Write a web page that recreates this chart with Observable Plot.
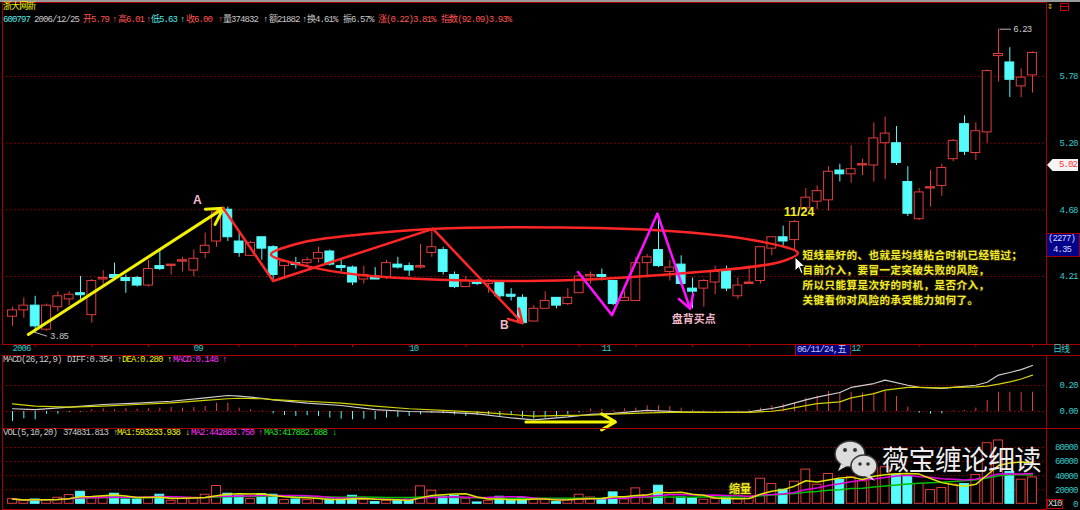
<!DOCTYPE html>
<html><head><meta charset="utf-8">
<script src="https://cdn.jsdelivr.net/npm/d3@7"></script>
<script src="https://cdn.jsdelivr.net/npm/@observablehq/plot@0.6"></script>
<style>
html,body{margin:0;padding:0;background:#000;}
#root{position:relative;width:1080px;height:510px;background:#000;overflow:hidden;}
#root svg{position:absolute;left:0;}
#root svg g[font-size="9"] text{letter-spacing:-0.9px;}
#root svg g[font-size="10.5"] text{letter-spacing:0.5px;}
.t{position:absolute;white-space:pre;font-family:"Liberation Mono","Noto Sans CJK SC",monospace;font-size:9px;letter-spacing:-0.9px;line-height:10px;}
.box{position:absolute;box-sizing:border-box;}
</style></head>
<body><div id="root"></div>
<script>
// ---------------- data ----------------
const opens  = [3.95,3.99,4.02,3.87,4.01,4.06,4.10,3.96,4.19,4.22,4.20,4.20,4.15,4.28,4.28,4.31,4.25,4.37,4.45,4.68,
                4.45,4.35,4.48,4.41,4.28,4.30,4.30,4.33,4.38,4.28,4.27,4.19,4.21,4.20,4.29,4.28,4.27,4.37,4.39,4.22,
                4.14,4.18,4.16,4.17,4.09,4.07,3.92,4.00,4.07,4.03,4.10,4.21,4.22,4.18,4.05,4.05,4.30,4.39,4.24,4.29,
                4.13,4.13,4.17,4.25,4.08,4.16,4.18,4.40,4.48,4.46,4.69,4.74,4.75,4.98,4.95,5.02,5.02,5.20,5.20,4.89,
                4.61,4.84,4.86,5.07,5.36,5.12,5.29,5.97,5.91,5.69,5.79];
const highs  = [4.01,4.07,4.08,4.03,4.11,4.11,4.21,4.19,4.25,4.30,4.22,4.21,4.32,4.38,4.29,4.34,4.39,4.51,4.69,4.70,
                4.51,4.45,4.48,4.42,4.32,4.34,4.34,4.41,4.39,4.32,4.28,4.28,4.27,4.32,4.34,4.30,4.43,4.53,4.41,4.24,
                4.21,4.19,4.19,4.18,4.13,4.09,4.02,4.11,4.07,4.13,4.22,4.24,4.26,4.18,4.11,4.34,4.36,4.64,4.32,4.35,
                4.20,4.19,4.28,4.28,4.20,4.28,4.41,4.48,4.56,4.60,4.84,4.86,5.01,5.03,5.18,5.07,5.37,5.42,5.34,5.01,
                4.84,4.98,5.03,5.23,5.43,5.37,5.84,6.23,6.05,5.85,6.01];
const lows   = [3.89,3.94,3.85,3.86,3.98,4.02,4.06,3.91,4.14,4.20,4.10,4.14,4.14,4.25,4.22,4.24,4.21,4.33,4.41,4.45,
                4.34,4.35,4.32,4.19,4.19,4.26,4.27,4.30,4.28,4.24,4.15,4.16,4.19,4.19,4.26,4.21,4.26,4.34,4.22,4.13,
                4.14,4.15,4.10,4.06,4.05,3.90,3.92,4.00,4.00,4.02,4.10,4.16,4.18,4.02,4.05,4.05,4.20,4.27,4.18,4.15,
                4.00,4.01,4.09,4.11,4.06,4.16,4.16,4.35,4.41,4.39,4.66,4.68,4.67,4.89,4.88,4.94,4.89,4.91,5.02,4.63,
                4.60,4.70,4.78,5.05,5.10,5.06,5.20,5.73,5.59,5.59,5.63];
const closes = [3.99,4.02,3.89,4.02,4.08,4.09,4.09,4.18,4.20,4.20,4.18,4.15,4.26,4.26,4.29,4.32,4.33,4.42,4.66,4.48,
                4.37,4.44,4.40,4.22,4.31,4.29,4.32,4.37,4.29,4.27,4.17,4.22,4.19,4.30,4.27,4.25,4.28,4.41,4.24,4.14,
                4.18,4.16,4.18,4.08,4.08,3.91,4.00,4.05,4.02,4.07,4.21,4.22,4.21,4.03,4.07,4.30,4.34,4.28,4.27,4.16,
                4.11,4.18,4.24,4.13,4.15,4.17,4.41,4.48,4.45,4.59,4.77,4.82,4.97,4.95,4.99,5.03,5.24,5.28,5.04,4.65,
                4.81,4.85,5.00,5.22,5.13,5.30,5.83,5.99,5.75,5.77,6.00];
// volume in hands (axis shows value / 10)
const volumes = [67000,43000,61000,53000,86000,124000,171000,86000,100000,143000,61000,61000,90000,129000,43000,67000,86000,129000,253000,143000,
                 110000,67000,138000,129000,53000,61000,53000,76000,61000,61000,114000,57000,24000,43000,48000,57000,248000,186000,100000,110000,
                 71000,19000,43000,100000,53000,81000,57000,57000,24000,67000,129000,90000,61000,162000,61000,219000,124000,257000,124000,90000,
                 76000,57000,67000,90000,67000,100000,357000,281000,200000,314000,486000,271000,424000,338000,376000,319000,505000,519000,414000,390000,
                 281000,195000,224000,271000,281000,410000,861000,900000,453000,343000,374832];
const macdHist = [-0.077,-0.056,-0.064,-0.021,-0.021,-0.008,-0.005,0.013,0.021,0.013,0.021,0.018,0.021,0.026,0.031,0.026,0.031,0.038,0.064,0.064,
                  0.026,0.013,0.005,-0.018,-0.031,-0.038,-0.033,-0.038,-0.051,-0.059,-0.064,-0.059,-0.064,-0.051,-0.044,-0.038,-0.026,-0.013,-0.018,-0.026,
                  -0.038,-0.031,-0.026,-0.038,-0.033,-0.050,-0.059,-0.051,-0.044,-0.026,-0.010,0.018,0.018,0.010,0.020,0.026,0.044,0.044,0.038,0.026,
                  0.010,0.005,0.005,-0.005,0.005,0.010,0.026,0.044,0.056,0.064,0.103,0.118,0.154,0.146,0.149,0.141,0.141,0.154,0.115,0.033,
                  -0.013,-0.020,-0.018,0.005,0.008,0.026,0.085,0.148,0.148,0.148,0.148];
const lineIdx  = [0,2,5,8,11,14,17,19,20,22,23,26,29,32,35,38,41,44,46,49,51,53,56,59,62,65,67,68,70,71,73,74,76,77,79,80,82,83,85,86,87,88,89,90];
const diffVals = [0.021,0.015,0.033,0.054,0.064,0.079,0.105,0.123,0.118,0.102,0.090,0.064,0.046,0.015,0.000,-0.005,-0.018,-0.049,-0.065,-0.042,-0.022,-0.015,0.008,-0.003,-0.006,-0.002,0.023,0.041,0.090,0.110,0.146,0.185,0.215,0.241,0.202,0.185,0.177,0.185,0.202,0.225,0.280,0.300,0.322,0.354];
const deaVals  = [0.059,0.041,0.033,0.041,0.054,0.067,0.085,0.098,0.102,0.098,0.092,0.079,0.064,0.041,0.021,0.008,-0.005,-0.023,-0.035,-0.030,-0.028,-0.020,-0.010,-0.005,-0.006,-0.006,0.002,0.012,0.045,0.060,0.074,0.105,0.138,0.164,0.185,0.185,0.182,0.185,0.190,0.195,0.210,0.228,0.250,0.280];
const priceTicks = [4.21, 4.68, 5.20, 5.78];
const macdTicks  = [0, 0.2];
const volTicks   = [0, 200000, 400000, 600000, 800000];
const weekTicks  = [2,7,12,16,20,25,30,35,40,45,50,52,55,60,65,70,75,80,85,90];
const monthIdx    = [0, 16, 35, 52, 74];
const monthLabels = ["2006", "09", "10", "11", "12"];

// annotations (in index / price units)
const yellowArrow = [{x1: 1.4, y1: 3.84, x2: 18.6, y2: 4.69}];
const redPath  = [{x: 18.6, y: 4.69}, {x: 23.0, y: 4.18}, {x: 37.1, y: 4.54}];
const redHead  = [{x1: 37.1, y1: 4.54, x2: 45.0, y2: 3.91}];
const magPath  = [{x: 49.9, y: 4.24}, {x: 52.9, y: 3.96}, {x: 56.9, y: 4.65}];
const magHead  = [{x1: 56.9, y1: 4.65, x2: 59.8, y2: 4.00}];
const ellipsePts = [{x:22.8,y:4.36},{x:25.4,y:4.44},{x:30.7,y:4.50},{x:36.9,y:4.54},{x:48.4,y:4.55},{x:58.9,y:4.52},
                    {x:66.0,y:4.45},{x:69.3,y:4.37},{x:67.8,y:4.31},{x:57.2,y:4.22},{x:45.4,y:4.18},{x:30.7,y:4.22},{x:25.4,y:4.29}];
const noteText = "短线最好的、也就是均线粘合时机已经错过；\n目前介入，要冒一定突破失败的风险，\n所以只能算是次好的时机，是否介入，\n关键看你对风险的承受能力如何了。";

// ---------------- drawing ----------------
const RED = "#e23c3c", CYAN = "#54fcfc", GRID = "#9a0000", FRAME = "#a80000", AX = "#38c8c8";
const mono = "Liberation Mono, Noto Sans CJK SC, monospace";
const cjk = "Noto Sans CJK SC, sans-serif";
const bars = opens.map((o, i) => ({i, o, h: highs[i], l: lows[i], c: closes[i], v: volumes[i], m: macdHist[i], up: closes[i] >= o}));
const X = {domain: [0, 90], range: [12, 1032], axis: null};
const common = {width: 1080, marginLeft: 2, marginRight: 34, style: {background: "transparent", overflow: "visible"}, color: {type: "identity"}};
const hw = 0.39;

const price = Plot.plot({
  ...common, height: 356, marginTop: 2, marginBottom: 12,
  x: X,
  y: {type: "log", domain: [4.21, 5.78], range: [276, 76], axis: null},
  marks: [
    Plot.ruleY(priceTicks, {stroke: GRID, strokeDasharray: "1.5,2.5"}),
    Plot.frame({stroke: FRAME}),
    Plot.axisX({ticks: weekTicks, tickSize: 3, tickFormat: () => "", stroke: FRAME, label: null}),
    Plot.text(monthIdx, {x: d => d, text: (d, i) => monthLabels[i], frameAnchor: "bottom", dy: 6, dx: 0, textAnchor: "start", fill: AX, fontFamily: mono, fontSize: 9}),
    Plot.text(priceTicks, {y: d => d, text: d => d.toFixed(2), frameAnchor: "right", dx: 31, textAnchor: "end", fill: AX, fontFamily: mono, fontSize: 9}),
    Plot.ruleX(bars, {x: "i", y1: "l", y2: "h", stroke: d => d.up ? RED : CYAN}),
    Plot.rect(bars, {x1: d => d.i - hw, x2: d => d.i + hw, y1: "o", y2: "c", fill: d => d.up ? "#000" : CYAN, stroke: d => d.up ? RED : CYAN}),
    Plot.ruleY(bars.filter(d => Math.abs(d.o - d.c) < 0.012), {y: "c", x1: d => d.i - hw, x2: d => d.i + hw, stroke: d => d.up ? RED : CYAN}),
    Plot.line(ellipsePts, {x: "x", y: "y", curve: "catmull-rom-closed", stroke: "#ff2626", strokeWidth: 2.5}),
    Plot.arrow(yellowArrow, {x1: "x1", y1: "y1", x2: "x2", y2: "y2", stroke: "#f2f200", strokeWidth: 3, headLength: 9}),
    Plot.line(redPath, {x: "x", y: "y", stroke: "#ff2626", strokeWidth: 2.5}),
    Plot.arrow(redHead, {x1: "x1", y1: "y1", x2: "x2", y2: "y2", stroke: "#ff2626", strokeWidth: 2.5, headLength: 9}),
    Plot.line(magPath, {x: "x", y: "y", stroke: "#ff10ff", strokeWidth: 2.5}),
    Plot.arrow(magHead, {x1: "x1", y1: "y1", x2: "x2", y2: "y2", stroke: "#ff10ff", strokeWidth: 2.5, headLength: 9}),
    Plot.link([{x1: 87.1, y1: 6.23, x2: 88.1, y2: 6.23}], {x1: "x1", y1: "y1", x2: "x2", y2: "y2", stroke: "#b8b8b8"}),
    Plot.text([{x: 88.3, y: 6.23, t: "6.23"}], {x: "x", y: "y", text: "t", textAnchor: "start", fill: "#c8c8c8", fontFamily: mono, fontSize: 9}),
    Plot.link([{x1: 1.9, y1: 3.855, x2: 3.05, y2: 3.83}], {x1: "x1", y1: "y1", x2: "x2", y2: "y2", stroke: "#b8b8b8"}),
    Plot.text([{x: 3.3, y: 3.83, t: "3.85"}], {x: "x", y: "y", text: "t", textAnchor: "start", fill: "#c8c8c8", fontFamily: mono, fontSize: 9}),
    Plot.text([{x: 16.3, y: 4.75, t: "A"}, {x: 43.4, y: 3.895, t: "B"}], {x: "x", y: "y", text: "t", fill: "#f2b8c8", fontFamily: "Liberation Sans, sans-serif", fontSize: 12, fontWeight: "bold"}),
    Plot.text([{x: 60.1, y: 3.935, t: "盘背买点"}], {x: "x", y: "y", text: "t", fill: "#f2b8c8", fontFamily: cjk, fontSize: 11, fontWeight: "bold"}),
    Plot.text([{x: 69.4, y: 4.66, t: "11/24"}], {x: "x", y: "y", text: "t", fill: "#f2ee20", fontFamily: "Liberation Sans, sans-serif", fontSize: 12.5, fontWeight: "bold"}),
    Plot.text([{x: 69.7, y: 4.207, t: noteText}], {x: "x", y: "y", text: "t", textAnchor: "start", lineHeight: 1.42, fill: "#f4ee2a", stroke: "#231c00", strokeWidth: 2, fontFamily: cjk, fontSize: 10.5, fontWeight: "bold"})
  ]
});

const macd = Plot.plot({
  ...common, height: 75, marginTop: 1, marginBottom: 1,
  x: X,
  y: {domain: [0, 0.2], range: [57, 31], axis: null},
  marks: [
    Plot.ruleY(macdTicks, {stroke: GRID, strokeDasharray: "1.5,2.5"}),
    Plot.frame({stroke: FRAME}),
    Plot.text(macdTicks, {y: d => d, text: d => d.toFixed(2), frameAnchor: "right", dx: 31, textAnchor: "end", fill: AX, fontFamily: mono, fontSize: 9}),
    Plot.ruleX(bars, {x: "i", y1: 0, y2: "m", stroke: d => d.m >= 0 ? RED : CYAN}),
    Plot.line(lineIdx, {x: d => d, y: (d, i) => diffVals[i], stroke: "#cfcfcf", strokeWidth: 1.2}),
    Plot.line(lineIdx, {x: d => d, y: (d, i) => deaVals[i], stroke: "#d2d200", strokeWidth: 1.2}),
    Plot.arrow([{x1: 45.3, y1: -0.08, x2: 53.2, y2: -0.08}], {x1: "x1", y1: "y1", x2: "x2", y2: "y2", stroke: "#f5f500", strokeWidth: 3, headLength: 8})
  ]
});

const vol = Plot.plot({
  ...common, height: 83, marginTop: 1, marginBottom: 1,
  x: X,
  y: {domain: [0, 800000], range: [76.3, 20], axis: null},
  marks: [
    Plot.ruleY(volTicks.slice(1), {stroke: GRID, strokeDasharray: "1.5,2.5"}),
    Plot.frame({stroke: FRAME}),
    Plot.text(volTicks, {y: d => d, text: d => String(d / 10), frameAnchor: "right", dx: 31, textAnchor: "end", fill: AX, fontFamily: mono, fontSize: 9}),
    Plot.rect(bars, {x1: d => d.i - hw, x2: d => d.i + hw, y1: 0, y2: "v", fill: d => d.up ? "#000" : CYAN, stroke: d => d.up ? RED : CYAN}),
    Plot.lineY(bars, Plot.windowY({k: 20, anchor: "end"}, {x: "i", y: "v", stroke: "#00c000"})),
    Plot.lineY(bars, Plot.windowY({k: 10, anchor: "end"}, {x: "i", y: "v", stroke: "#e000e0"})),
    Plot.lineY(bars, Plot.windowY({k: 5, anchor: "end"}, {x: "i", y: "v", stroke: "#e2e200"})),
    Plot.text([{x: 64.2, y: 200000, t: "缩量"}], {x: "x", y: "y", text: "t", fill: "#eeea20", stroke: "#3a3000", strokeWidth: 2, fontFamily: cjk, fontSize: 11, fontWeight: "bold"})
  ]
});

const root = document.getElementById("root");
price.style.top = "0px"; macd.style.top = "354px"; vol.style.top = "427px";
root.append(price, macd, vol);

function txt(x, y, s, color, extra) {
  const d = document.createElement("div"); d.className = "t";
  d.style.left = x + "px"; d.style.top = y + "px"; d.style.color = color; d.textContent = s;
  if (extra) Object.assign(d.style, extra);
  root.appendChild(d); return d;
}
function box(x, y, w, h, st) {
  const d = document.createElement("div"); d.className = "box";
  Object.assign(d.style, {left: x + "px", top: y + "px", width: w + "px", height: h + "px"}, st);
  root.appendChild(d); return d;
}
const GR = "#c8c8c8", RD = "#ff5454", CY = "#54e8e8", YL = "#f0f000", MG = "#ff30ff", GN = "#20e020";

// top strip and extra separators
box(0, 0, 1080, 2, {background: "#9a9a9a"});
[344, 355, 428].forEach(y => box(1046, y, 34, 1, {background: FRAME}));

// header
txt(3, 2, "浙大网新", "#f0f000");
[[3,"600797",CY],[34,"2006/12/25",GR],[83,"开5.79",RD],[112,"↑",RD],[118,"高6.01",RD],[146,"↑",RD],
 [151,"低5.63",CY],[180,"↑",CY],[186,"收6.00",RD],[218,"↑",RD],[223,"量374832",GR],[263,"↑",GR],
 [269,"额21882",GR],[302,"↑",GR],[307,"换4.61%",GR],[343,"振6.57%",GR],[378,"涨(0.22)3.81%",RD],[441,"指数(92.09)3.93%",RD]]
 .forEach(([x, s, c]) => txt(x, 15, s, c));
// MACD header
[[3,"MACD(26,12,9)",GR],[67,"DIFF:0.354",GR],[117,"↑",GR],[122,"DEA:0.280",YL],[167,"↑",YL],[173,"MACD:0.148",MG],[222,"↑",MG]]
 .forEach(([x, s, c]) => txt(x, 355, s, c));
// VOL header
[[3,"VOL(5,10,20)",GR],[63,"374831.813",GR],[113,"↑",GR],[117,"MA1:593233.938",YL],[185,"↓",YL],
 [191,"MA2:442883.750",MG],[258,"↑",MG],[264,"MA3:417882.688",GN],[332,"↓",GN]]
 .forEach(([x, s, c]) => txt(x, 428, s, c));

// right side items
txt(1047, 2, "⇕", "#f0d000", {fontSize: "10px"});
box(1060, 3, 9, 8, {border: "1px solid #c00000"});
box(1060, 6, 9, 1, {background: "#c00000"});
box(1047, 159, 31, 12, {background: "#f4f4f4", clipPath: "polygon(0 50%, 18% 0, 100% 0, 100% 100%, 18% 100%)"});
txt(1059, 160, "5.02", "#ff3030");
box(1046, 233, 34, 24, {background: "#000088", border: "1px solid #a00000"});
txt(1048, 234, "(2277)", "#d4d4ff");
txt(1053, 245, "4.35", "#d4d4ff");
box(795, 344, 56, 12, {background: "#000080", border: "1px solid #c00000"});
txt(797, 345, "06/11/24,五", "#c8c8ee");
txt(1053, 345, "日线", AX);
box(1047, 499, 16, 10, {border: "1px solid #c00000"});
txt(1048, 499, "X10", "#d8d8d8");

// cursor
root.insertAdjacentHTML("beforeend",
 '<svg style="position:absolute;left:794px;top:256px" width="12" height="20"><path d="M1 1 L1 15 L4.5 11.5 L7 17.5 L9 16.5 L6.5 10.5 L11 10.5 Z" fill="#fff" stroke="#000" stroke-width="1"/></svg>');
// watermark
root.insertAdjacentHTML("beforeend",
 '<svg style="position:absolute;left:832px;top:438px" width="50" height="44">' +
 '<ellipse cx="18" cy="16" rx="15" ry="13" fill="#dcdcdc" stroke="#333" stroke-width="1.5"/>' +
 '<path d="M9 26 L6 33 L15 28 Z" fill="#dcdcdc"/>' +
 '<circle cx="13" cy="12" r="2" fill="#333"/><circle cx="23" cy="12" r="2" fill="#333"/>' +
 '<ellipse cx="32" cy="28" rx="13" ry="11" fill="#dcdcdc" stroke="#333" stroke-width="1.5"/>' +
 '<path d="M38 37 L43 43 L33 38 Z" fill="#dcdcdc"/>' +
 '<circle cx="28" cy="26" r="1.8" fill="#333"/><circle cx="36" cy="26" r="1.8" fill="#333"/></svg>');
txt(882, 444, "薇宝缠论细读", "#ededed", {fontFamily: '"Noto Sans CJK SC", sans-serif', fontSize: "27px", lineHeight: "30px", letterSpacing: "-0.5px"});
</script>
</body></html>
